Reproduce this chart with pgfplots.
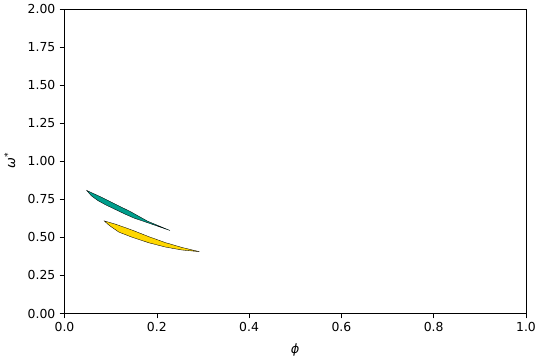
\documentclass[border=0pt]{standalone}
\usepackage{pgfplots}
\pgfplotsset{compat=1.18}
\usepackage{fontspec}
\setmainfont{DejaVu Sans}
\definecolor{tealc}{HTML}{009E8C}
\definecolor{goldc}{HTML}{FFD700}
\begin{document}
\fontsize{12.5bp}{15bp}\selectfont
\begin{tikzpicture}
\begin{axis}[
  width=465bp, height=307bp, scale only axis,
  xmin=0, xmax=1, ymin=0, ymax=2,
  xtick={0,0.2,0.4,0.6,0.8,1.0},
  ytick={0,0.25,0.5,0.75,1.0,1.25,1.5,1.75,2.0},
  xticklabel style={/pgf/number format/.cd,fixed,fixed zerofill,precision=1,assume math mode=true},
  yticklabel style={/pgf/number format/.cd,fixed,fixed zerofill,precision=2,assume math mode=true},
  tick label style={font=\fontsize{12.5bp}{15bp}\selectfont},
  label style={font=\fontsize{13bp}{15bp}\selectfont},
  tick align=outside, tick pos=left,
  major tick length=4.9bp,
  every tick/.style={black, line width=0.6pt},
  axis line style={line width=0.6pt},
  xlabel={\textit{ϕ}}, ylabel={\textit{ω}\raisebox{0.6ex}{\fontsize{9bp}{10bp}\selectfont *}},
  xlabel style={yshift=-3bp},
  ylabel style={yshift=4bp},
]
\addplot[fill=tealc, draw=black, line width=0.35pt] coordinates {
 (0.048,0.808) (0.0796,0.764) (0.108,0.721) (0.144,0.667) (0.180,0.606) (0.2285,0.545)
 (0.180,0.596) (0.151,0.626) (0.130,0.654) (0.108,0.686) (0.090,0.712) (0.0724,0.741) (0.058,0.773) (0.048,0.808)
} -- cycle;
\addplot[fill=goldc, draw=black, line width=0.35pt] coordinates {
 (0.086,0.608) (0.111,0.586) (0.147,0.547) (0.183,0.504) (0.219,0.465) (0.254,0.434) (0.292,0.406)
 (0.254,0.417) (0.219,0.436) (0.183,0.464) (0.147,0.500) (0.118,0.534) (0.097,0.578) (0.086,0.608)
} -- cycle;
\end{axis}
\path[use as bounding box] ([shift={(-65bp,-47bp)}]current axis.south west) rectangle ([shift={(10bp,6bp)}]current axis.north east);
\end{tikzpicture}
\end{document}
